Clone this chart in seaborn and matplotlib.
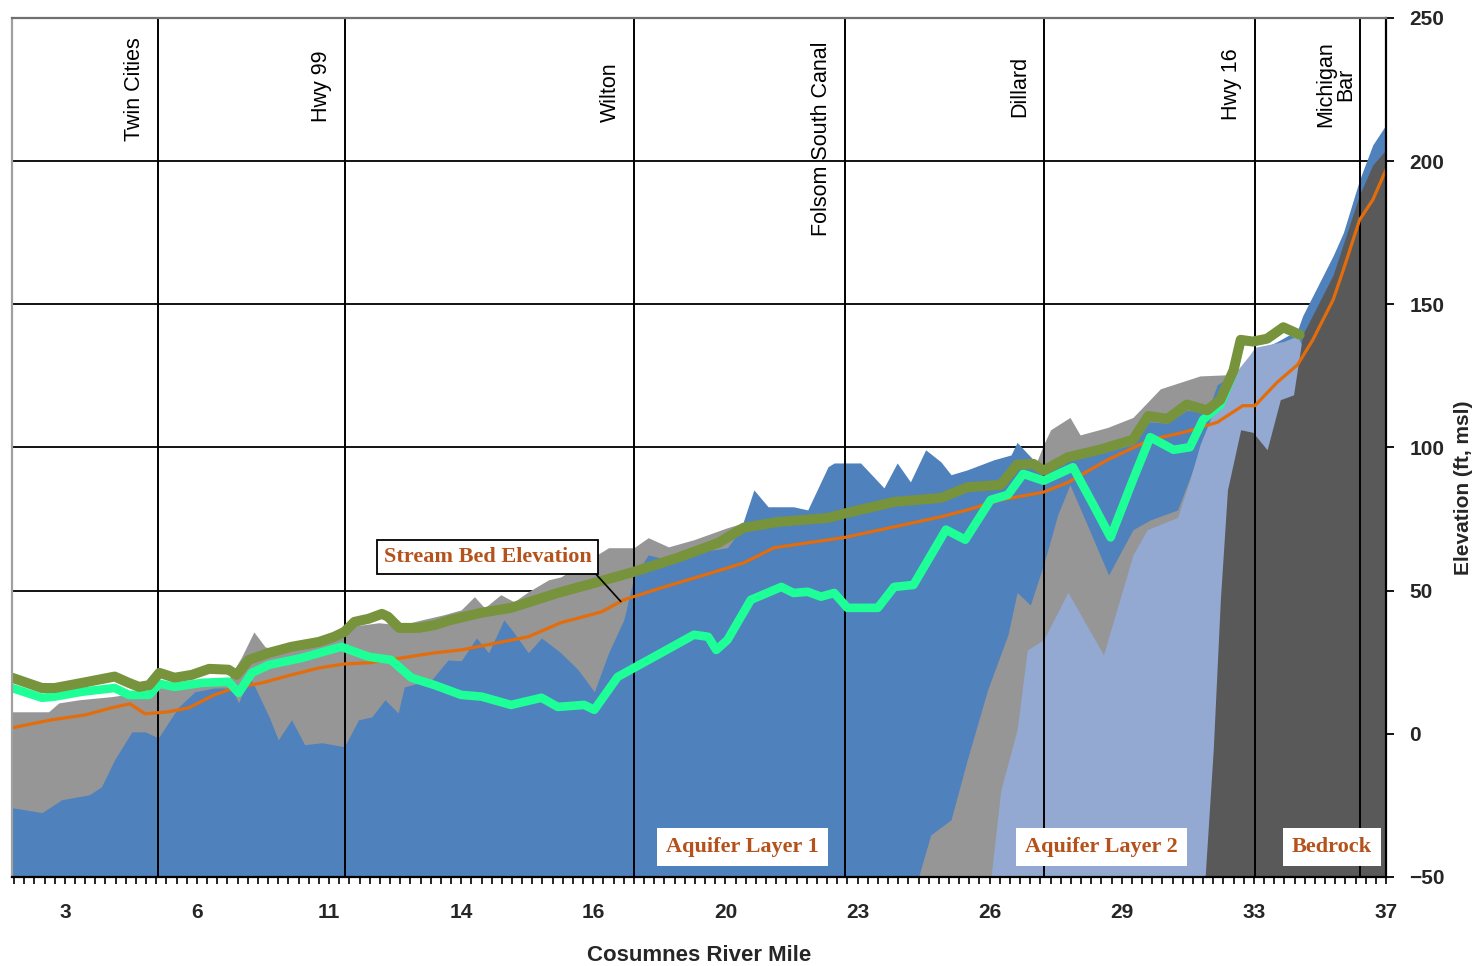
import numpy as np
import pandas as pd
import matplotlib
matplotlib.use("Agg")
import matplotlib.pyplot as plt
from matplotlib.ticker import MultipleLocator
import seaborn as sns

# ---- x axis: profile stations (13 stations between labelled river miles) ----
mile_labels = ["3", "6", "11", "14", "16", "20", "23", "26", "29", "33", "37"]
mile_label_station = [5, 18, 31, 44, 57, 70, 83, 96, 109, 122, 135]

# ---- landmarks along the river ----
landmarks = ["Twin Cities", "Hwy 99", "Wilton", "Folsom South Canal",
             "Dillard", "Hwy 16", "Michigan\nBar"]
landmark_station = [14.2, 32.6, 61.0, 81.8, 101.3, 122.1, 132.4]
landmark_label_elev = [225, 226, 224, 208, 226, 227, 227]

# ---- stream bed elevation (ft, msl) ----
stream_x = [-0.2, 3.7, 7.0, 9.6, 11.4, 12.9, 15.2, 17.2, 19.7, 21.7, 24.4, 27.3,
            30.0, 32.5, 34.9, 38.1, 41.4, 44.0, 46.0, 50.6, 53.8, 57.8, 60.0,
            63.7, 68.6, 71.8, 74.8, 76.7, 81.6, 86.6, 91.2, 93.8, 97.1, 101.3,
            103.7, 107.6, 111.8, 115.1, 118.4, 120.9, 122.1, 124.3, 126.3,
            127.8, 129.8, 130.8, 132.4, 133.7, 135]
stream_y = [2.1, 4.9, 6.6, 9.1, 10.5, 7.0, 7.7, 9.1, 13.6, 16.0, 17.8, 20.6,
            23.0, 24.4, 24.8, 26.5, 28.3, 29.3, 30.7, 33.9, 38.8, 42.6, 46.8,
            51.0, 56.2, 59.7, 65.0, 66.0, 68.5, 72.3, 75.8, 78.2, 81.7, 84.4,
            87.8, 95.7, 102.7, 105.3, 108.8, 114.6, 114.6, 122.8, 128.9,
            137.6, 151.6, 162.0, 179.5, 186.5, 197.0]

# ---- ground surface along the channel ----
ground_x = [-0.2, 2.75, 4.0, 7.0, 9.9, 11.3, 12.3, 13.3, 14.3, 15.8, 17.5, 19.2,
            21.1, 21.9, 23.1, 25.1, 27.3, 30.0, 31.5, 32.5, 33.5, 34.9, 36.2,
            36.8, 37.9, 39.8, 41.4, 43.0, 46.0, 48.9, 53.5, 57.1, 61.0, 65.3,
            69.3, 71.8, 75.2, 80.1, 82.0, 86.6, 91.2, 93.8, 97.1, 98.7, 100.3,
            101.3, 103.7, 106.9, 110.1, 111.6, 113.5, 115.4, 117.4, 118.7,
            120.0, 120.7, 121.9, 123.3, 124.9, 126.5]
ground_y = [19.6, 16.0, 16.0, 18.0, 20.0, 17.8, 16.4, 17.0, 21.3, 19.6, 20.6,
            22.7, 22.4, 20.6, 25.8, 28.3, 30.4, 32.1, 33.9, 35.6, 39.1, 40.2,
            41.9, 40.9, 37.0, 37.0, 38.0, 39.8, 42.3, 44.0, 49.2, 52.7, 56.6,
            61.5, 66.7, 72.0, 74.0, 75.4, 77.2, 81.0, 82.4, 86.1, 87.0, 94.0,
            94.3, 91.9, 96.6, 99.3, 102.7, 111.0, 110.0, 115.0, 113.0, 116.7,
            127.0, 137.6, 137.0, 138.0, 142.0, 139.4]

# ---- simulated groundwater level ----
gw_x = [-0.2, 2.75, 4.0, 6.7, 9.9, 11.3, 13.3, 14.3, 15.8, 18.5, 21.1, 22.1,
        23.4, 25.1, 28.3, 32.2, 34.9, 37.1, 39.1, 41.4, 44.0, 46.0, 48.9,
        51.9, 53.5, 56.1, 57.1, 59.4, 63.7, 66.9, 68.3, 69.1, 70.2, 72.5,
        75.5, 76.7, 78.1, 79.4, 80.7, 82.0, 85.0, 86.6, 88.5, 91.7, 93.6,
        96.1, 97.8, 99.3, 101.3, 104.2, 106.2, 107.9, 110.1, 111.8, 114.1,
        115.7, 117.0, 118.7, 120.0, 120.7, 121.9, 123.3, 124.9, 126.5]
gw_y = [16.0, 12.6, 13.0, 14.7, 16.0, 13.6, 13.6, 17.5, 16.4, 17.8, 18.2, 14.3,
        21.3, 24.1, 26.5, 30.4, 26.9, 25.8, 19.6, 17.0, 13.6, 13.0, 10.1,
        12.6, 9.4, 10.1, 8.4, 19.9, 28.3, 34.6, 33.9, 29.3, 32.8, 46.8,
        51.3, 49.2, 49.6, 47.9, 49.2, 44.0, 44.0, 51.3, 52.0, 71.3, 67.8,
        81.7, 83.5, 90.8, 88.4, 93.1, 80.0, 68.6, 88.7, 103.6, 99.2,
        100.1, 109.7, 114.9, 126.3, 137.2, 137.0, 138.0, 141.8, 139.2]

# ---- layer tops (ft, msl), drawn from the bottom of the section ----
clay_top_x = [-0.2, 3.4, 4.4, 6.4, 9.6, 11.6, 14.2, 17.8, 21.1, 22.4, 23.6, 24.7,
              26.0, 28.3, 31.5, 32.9, 35.9, 38.1, 40.1, 42.3, 44.0, 45.3, 46.3,
              47.9, 49.2, 50.6, 52.6, 53.8, 58.5, 61.0, 62.4, 64.4, 66.9, 70.2,
              71.8, 74.2, 78.1, 82.0, 86.6, 92.2, 97.1, 100.3, 101.3, 102.0,
              103.9, 104.9, 107.6, 110.1, 112.8, 116.7, 119.4, 120.0, 135]
clay_top_y = [7.7, 7.7, 10.8, 11.9, 13.0, 14.0, 16.0, 18.5, 19.0, 26.9, 35.6,
              30.4, 29.0, 31.0, 33.0, 37.4, 38.8, 38.0, 39.8, 41.6, 43.3, 47.9,
              44.0, 48.6, 46.1, 49.6, 53.8, 54.8, 65.0, 65.0, 68.5, 65.3, 67.8,
              72.0, 73.7, 74.0, 75.0, 76.0, 80.0, 82.0, 86.0, 92.0, 101.0,
              106.2, 110.5, 104.4, 107.0, 110.5, 120.5, 125.0, 125.4, 120.0,
              150.0]

layer1_top_x = [-0.2, 2.75, 4.7, 7.4, 8.6, 9.9, 11.6, 12.9, 14.2, 16.2, 17.8,
                19.7, 21.4, 22.1, 23.1, 23.7, 25.1, 26.0, 27.3, 28.6, 30.3,
                32.5, 33.9, 35.2, 36.5, 37.8, 38.4, 41.1, 42.7, 44.0, 45.5,
                46.7, 48.2, 49.2, 50.6, 51.9, 53.8, 55.5, 57.1, 58.5, 60.0,
                61.0, 62.4, 64.4, 66.9, 70.2, 71.5, 72.8, 74.2, 76.7, 78.1,
                80.1, 80.7, 83.3, 85.6, 86.9, 88.2, 89.7, 91.2, 92.2, 93.8,
                96.4, 98.1, 98.7, 100.3, 101.3, 103.7, 106.9, 110.1, 111.6,
                113.5, 115.4, 117.4, 118.4, 119.4, 120.0, 121.9, 124.3, 126.3,
                126.8, 127.8, 129.8, 130.8, 132.4, 133.7, 135]
layer1_top_y = [-25.8, -27.5, -23.0, -21.3, -18.5, -9.0, 0.7, 0.7, -1.4, 9.4,
                14.7, 16.0, 16.0, 10.8, 20.0, 16.4, 5.9, -2.1, 4.9, -3.8, -3.1,
                -4.5, 4.9, 5.9, 11.9, 7.3, 16.4, 18.9, 25.8, 25.5, 33.5, 28.3,
                39.8, 35.3, 28.3, 33.5, 28.3, 22.4, 14.7, 28.3, 39.8, 54.8,
                62.5, 60.8, 63.2, 65.0, 71.3, 85.2, 79.3, 79.3, 78.2, 93.3,
                94.6, 94.6, 85.9, 94.6, 88.0, 99.2, 95.0, 90.5, 92.2, 95.7,
                97.4, 101.8, 95.7, 93.0, 95.5, 98.0, 101.0, 109.0, 108.5,
                113.0, 112.0, 122.0, 124.0, 125.0, 133.0, 137.0, 141.0, 146.0,
                153.0, 167.0, 175.0, 193.5, 205.7, 212.7]

clay2_top_x = [89.0, 90.2, 92.2, 93.8, 95.8, 97.8, 98.7, 100.0, 101.3, 102.7,
               103.9, 105.6, 107.7, 110.1, 111.8, 114.5, 116.0, 117.7, 118.7,
               120.0, 121.6, 135]
clay2_top_y = [-50.0, -35.3, -30.0, -9.0, 15.4, 34.6, 49.4, 45.0, 59.0, 76.5,
               87.0, 73.0, 55.5, 71.3, 74.7, 78.2, 92.2, 109.7, 118.4, 120.0,
               125.0, 150.0]

layer2_top_x = [96.1, 97.1, 98.7, 99.7, 101.3, 103.7, 107.2, 110.1, 111.5,
                114.5, 115.7, 116.7, 118.7, 120.0, 121.6, 122.1, 124.9, 126.3,
                126.8, 135]
layer2_top_y = [-51.0, -19.6, 1.4, 29.3, 32.8, 49.4, 27.6, 62.5, 71.3, 75.6,
                88.7, 101.0, 118.4, 125.4, 132.4, 135.0, 137.0, 139.0, 135.0,
                150.0]

bedrock_top_x = [117.2, 118.0, 118.7, 119.4, 120.7, 121.9, 123.3, 124.6, 125.9,
                 126.8, 129.8, 132.4, 133.7, 135]
bedrock_top_y = [-50.0, -5.6, 46.8, 85.2, 106.2, 105.3, 99.2, 116.7, 118.4,
                 139.4, 160.3, 188.3, 198.7, 204.0]

# ---- styling ----
C_CLAY = "#969696"
C_L1 = "#4F81BD"
C_L2 = "#93A9D1"
C_BED = "#595959"
C_STREAM = "#E46C0A"
C_GROUND = "#77933C"
C_GW = "#1EFF98"
C_TAG = "#B5521B"

sns.set_theme(style="white")
plt.rcParams["font.family"] = ["Liberation Sans", "DejaVu Sans"]

fig = plt.figure(figsize=(14.78, 9.66), dpi=100)
ax = fig.add_axes([12 / 1478, 1 - 877 / 966, 1374 / 1478, 859 / 966])

YMIN, YMAX = -50, 250
XMIN, XMAX = -0.2, 135

# horizontal grid lines sit behind the layers
for yv in (50, 100, 150, 200):
    ax.axhline(yv, color="black", lw=1.3, zorder=0.5)

# geologic layers, each filled up from the base of the section
for xs, ys, col in [(clay_top_x, clay_top_y, C_CLAY),
                    (layer1_top_x, layer1_top_y, C_L1),
                    (clay2_top_x, clay2_top_y, C_CLAY),
                    (layer2_top_x, layer2_top_y, C_L2),
                    (bedrock_top_x, bedrock_top_y, C_BED)]:
    ax.fill_between(xs, YMIN - 5, ys, color=col, lw=0, zorder=1)

# landmark lines
for st in landmark_station:
    ax.axvline(st, color="black", lw=1.4, zorder=2)

# profile lines
df_stream = pd.DataFrame({"station": stream_x, "elev": stream_y})
df_ground = pd.DataFrame({"station": ground_x, "elev": ground_y})
df_gw = pd.DataFrame({"station": gw_x, "elev": gw_y})
sns.lineplot(data=df_stream, x="station", y="elev", color=C_STREAM, lw=2.3,
             ax=ax, zorder=3)
sns.lineplot(data=df_gw, x="station", y="elev", color=C_GW, lw=6.2,
             ax=ax, zorder=4)
sns.lineplot(data=df_ground, x="station", y="elev", color=C_GROUND, lw=7.2,
             ax=ax, zorder=5)

ax.set_xlim(XMIN, XMAX)
ax.set_ylim(YMIN, YMAX)

# landmark names
for name, st, ev in zip(landmarks, landmark_station, landmark_label_elev):
    ax.text(st - 2.35, ev, name, rotation=90, ha="center", va="center",
            multialignment="center", fontsize=15.5, color="black",
            linespacing=0.95, zorder=6)

# layer tags
tag_kw = dict(fontfamily=["Liberation Serif", "DejaVu Serif"], fontweight="bold",
              fontsize=16, color=C_TAG, ha="center", va="center", zorder=7)
for txt, st in [("Aquifer Layer 1", 71.7), ("Aquifer Layer 2", 107.0),
                ("Bedrock", 129.7)]:
    ax.text(st, -39.5, txt, bbox=dict(boxstyle="square,pad=0.4", fc="white",
                                      ec="none"), **tag_kw)

# stream bed callout
ptr_st = 59.7
ax.annotate("Stream Bed Elevation",
            xy=(ptr_st, np.interp(ptr_st, stream_x, stream_y)),
            xytext=(46.6, 61.8),
            bbox=dict(boxstyle="square,pad=0.3", fc="white", ec="black", lw=1.3),
            arrowprops=dict(arrowstyle="-", color="black", lw=1.2,
                            relpos=(0.99, 0.0), shrinkA=0, shrinkB=0),
            **tag_kw)

# axes, ticks and labels
ax.yaxis.tick_right()
ax.yaxis.set_label_position("right")
ax.set_yticks(range(-50, 251, 50))
ax.set_xticks(mile_label_station, labels=mile_labels)
ax.xaxis.set_minor_locator(MultipleLocator(1))
ax.tick_params(axis="x", which="both", bottom=True, direction="out",
               length=5, width=1.2, color="black")
ax.tick_params(axis="x", which="major", pad=14, labelsize=15)
ax.tick_params(axis="y", which="major", right=True, left=False, direction="out",
               length=6, width=1.3, color="black", pad=11, labelsize=15)
for lab in ax.get_xticklabels() + ax.get_yticklabels():
    lab.set_fontweight("bold")

ax.set_xlabel("Cosumnes River Mile", fontsize=16, fontweight="bold", labelpad=16)
ax.set_ylabel("Elevation (ft, msl)", fontsize=15, fontweight="bold")
ax.yaxis.set_label_coords(1.0495, 0.453)

for side, col in [("right", "black"), ("bottom", "black"),
                  ("top", "#707070"), ("left", "#a0a0a0")]:
    ax.spines[side].set_visible(True)
    ax.spines[side].set_color(col)
    ax.spines[side].set_linewidth(1.6)
    ax.spines[side].set_zorder(8)

fig.savefig("out.png", dpi=100, facecolor="white")
